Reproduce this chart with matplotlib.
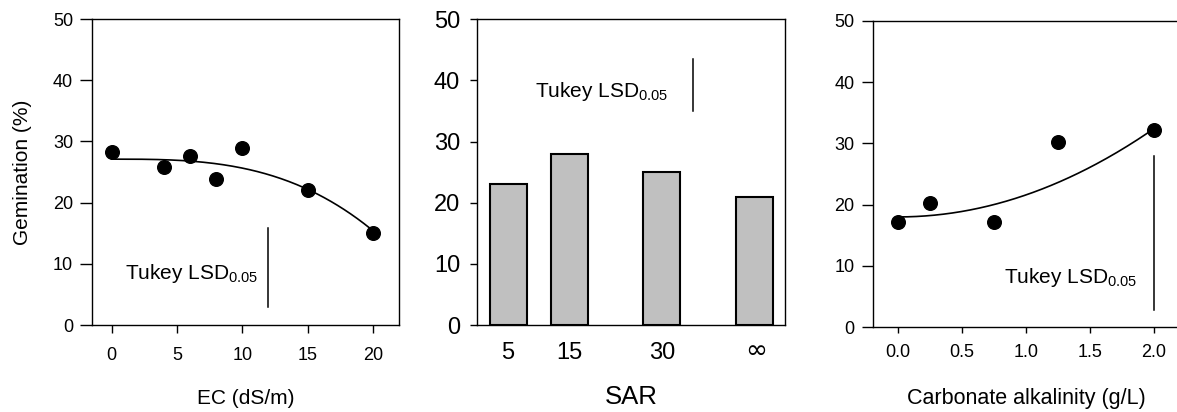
import numpy as np
import matplotlib
matplotlib.use("Agg")
import matplotlib.pyplot as plt
import matplotlib.transforms as mtransforms

plt.rcParams['font.family'] = ['Liberation Sans', 'DejaVu Sans']
plt.rcParams['mathtext.fontset'] = 'custom'
plt.rcParams['mathtext.rm'] = 'Liberation Sans'
plt.rcParams['mathtext.it'] = 'Liberation Sans'

# ---------------- data ----------------
ec_vals = [0, 4, 6, 8, 10, 15, 20]
germ_ec = [28.3, 25.8, 27.6, 23.9, 28.9, 22.0, 15.1]
ec_fit = [27.1, 0.00146]            # y = a - b * x^3
ec_lsd_x = 12
ec_lsd = [3.0, 15.8]

sar_labels = ['5', '15', '30', '∞']
sar_pos = [5, 15, 30, 45]
germ_sar = [23, 28, 25, 21]
sar_lsd_x = 35
sar_lsd = [35.0, 43.5]

alk_vals = [0.0, 0.25, 0.75, 1.25, 2.0]
germ_alk = [17.2, 20.2, 17.2, 30.2, 32.2]
alk_fit = [18.0, 3.6]               # y = a + b * x^2
alk_lsd_x = 2.0
alk_lsd = [2.9, 27.9]

lsd_text = r'Tukey LSD$_{\mathregular{0.05}}$'
yticks = [0, 10, 20, 30, 40, 50]

W, H = 1177, 412
fig = plt.figure(figsize=(W / 100, H / 100), dpi=100)


def box(l, r, t, b):
    return [l / W, 1 - b / H, (r - l) / W, (b - t) / H]


ax1 = fig.add_axes(box(92, 399, 19, 325))
ax2 = fig.add_axes(box(477.3, 785, 19.3, 325))
ax3 = fig.add_axes(box(872.7, 1179.6, 20.7, 327.3))

for ax in (ax1, ax2, ax3):
    for s in ax.spines.values():
        s.set_linewidth(1.0)
        s.set_color('black')
    ax.set_ylim(0, 50)
    ax.set_yticks(yticks)

# ---- panel 1 ----
ax1.set_xlim(-1.5, 22)
ax1.set_xticks([0, 5, 10, 15, 20])
xs = np.linspace(min(ec_vals), max(ec_vals), 200)
ax1.plot(xs, ec_fit[0] - ec_fit[1] * xs ** 3, color='black', lw=1.2)
ax1.plot(ec_vals, germ_ec, 'o', color='black', ms=9.8)
ax1.plot([ec_lsd_x, ec_lsd_x], ec_lsd, color='black', lw=1.1)
ax1.text(1.0, 7.5, lsd_text, fontsize=15, ha='left', va='baseline')
ax1.tick_params(axis='y', length=8.6, width=1, pad=5, labelsize=13)
ax1.tick_params(axis='x', length=5.8, width=1, pad=10, labelsize=13)
ax1.set_xlabel('EC (dS/m)', fontsize=15, va='center')
ax1.xaxis.set_label_coords(0.5, -0.2386)
ax1.set_ylabel('Gemination (%)', fontsize=15, va='center')
ax1.yaxis.set_label_coords(-(92 - 23) / 307, 0.5)

# ---- panel 2 ----
ax2.set_xlim(0, 50)
ax2.bar(sar_pos, germ_sar, width=6, color='#c0c0c0', edgecolor='black', lw=1.5)
ax2.set_xticks(sar_pos)
ax2.set_xticklabels(sar_labels)
ax2.plot([sar_lsd_x, sar_lsd_x], sar_lsd, color='black', lw=1.1)
ax2.text(9.4, 37.3, lsd_text, fontsize=15, ha='left', va='baseline')
ax2.tick_params(axis='y', length=5.3, width=1, pad=7, labelsize=17)
ax2.tick_params(axis='x', length=0, pad=12, labelsize=17)
inf_lbl = ax2.get_xticklabels()[-1]
inf_lbl.set_fontfamily('DejaVu Sans')
inf_lbl.set_fontsize(19)
inf_lbl.set_transform(inf_lbl.get_transform() +
                      mtransforms.ScaledTranslation(0.02, 4 / 100, fig.dpi_scale_trans))
ax2.set_xlabel('SAR', fontsize=18.5, va='center')
ax2.xaxis.set_label_coords(0.5, -0.2345)

# ---- panel 3 ----
ax3.set_xlim(-0.2, 2.2)
ax3.set_xticks([0.0, 0.5, 1.0, 1.5, 2.0])
ax3.set_xticklabels(['0.0', '0.5', '1.0', '1.5', '2.0'])
xs3 = np.linspace(min(alk_vals), max(alk_vals), 200)
ax3.plot(xs3, alk_fit[0] + alk_fit[1] * xs3 ** 2, color='black', lw=1.2)
ax3.plot(alk_vals, germ_alk, 'o', color='black', ms=9.8)
ax3.plot([alk_lsd_x, alk_lsd_x], alk_lsd, color='black', lw=1.1)
ax3.text(0.827, 7.2, lsd_text, fontsize=15, ha='left', va='baseline')
ax3.tick_params(axis='y', length=8, width=1, pad=5, labelsize=13)
ax3.tick_params(axis='x', length=4.3, width=1, pad=8, labelsize=13)
ax3.set_xlabel('Carbonate alkalinity (g/L)', fontsize=15.5, va='center')
ax3.xaxis.set_label_coords(0.5, -0.2316)

fig.savefig('out.png', dpi=100)
